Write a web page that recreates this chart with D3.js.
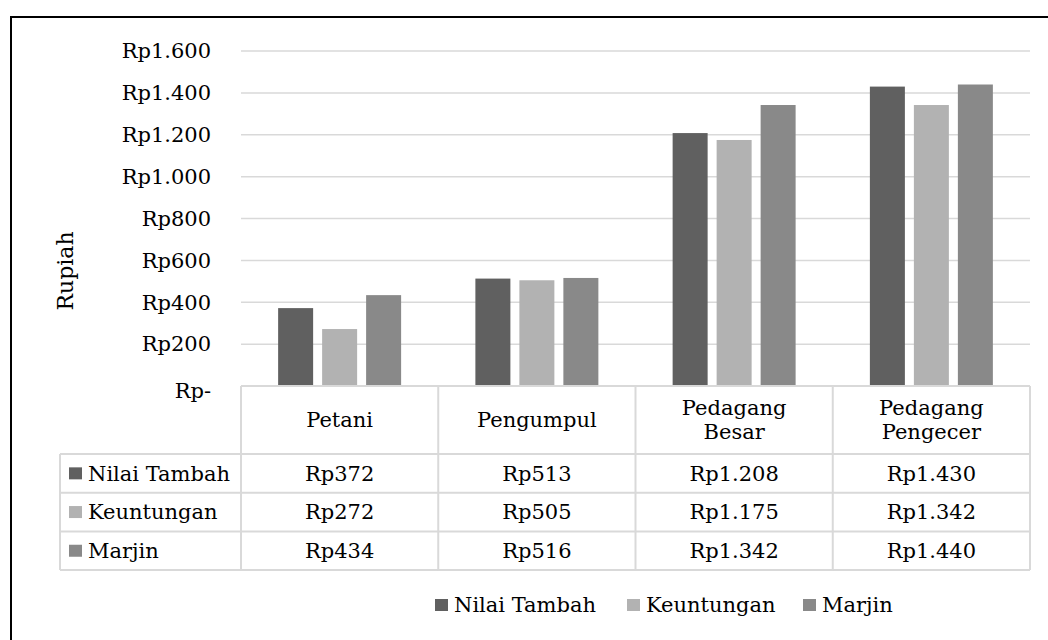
<!DOCTYPE html>
<html>
<head>
<meta charset="utf-8">
<script src="https://cdn.jsdelivr.net/npm/d3@7"></script>
<style>
  html, body { margin: 0; padding: 0; background: #fff; }
</style>
</head>
<body>
<svg id="chart" width="1048" height="640"></svg>
<script>
const categories = [["Petani"], ["Pengumpul"], ["Pedagang", "Besar"], ["Pedagang", "Pengecer"]];
const seriesNames = ["Nilai Tambah", "Keuntungan", "Marjin"];
const nilaiTambah = [372, 513, 1208, 1430];
const keuntungan = [272, 505, 1175, 1342];
const marjin = [434, 516, 1342, 1440];
const yTicks = [0, 200, 400, 600, 800, 1000, 1200, 1400, 1600];

const values = [nilaiTambah, keuntungan, marjin];
const colors = ["#606060", "#b2b2b2", "#898989"];
const gridColor = "#d9d9d9";
const FONT = 21;
const FAMILY = "'DejaVu Serif', serif";

const svg = d3.select("svg#chart");

const locale = d3.formatLocale({decimal: ",", thousands: ".", grouping: [3], currency: ["Rp", ""]});
const fmt = v => v === 0 ? "Rp-" : "Rp" + locale.format(",")(v);

// frame
svg.append("rect")
    .attr("x", 11).attr("y", 17)
    .attr("width", 1100).attr("height", 700)
    .attr("fill", "none").attr("stroke", "#000").attr("stroke-width", 2);

const plotLeft = 241, plotRight = 1030;
const catKeys = categories.map(c => c.join(" "));

const x = d3.scaleBand().domain(catKeys).range([plotLeft, plotRight]);
const xInner = d3.scaleBand().domain(seriesNames).range([0, x.bandwidth()])
    .paddingInner(9 / 44).paddingOuter(0.844);
const y = d3.scaleLinear().domain([0, 1600]).range([386, 51]);

// gridlines
svg.append("g").selectAll("line")
    .data(yTicks.filter(d => d > 0))
    .join("line")
    .attr("x1", plotLeft).attr("x2", plotRight)
    .attr("y1", d => y(d)).attr("y2", d => y(d))
    .attr("stroke", gridColor).attr("stroke-width", 1.5);

// y tick labels
svg.append("g").selectAll("text")
    .data(yTicks)
    .join("text")
    .attr("x", 211)
    .attr("y", d => y(d) + (d === 0 ? 5 : 0))
    .attr("dy", "0.35em")
    .attr("text-anchor", "end")
    .style("font-family", FAMILY)
    .attr("font-size", FONT)
    .text(fmt);

// y axis title
svg.append("text")
    .attr("transform", "translate(73,271) rotate(-90)")
    .attr("text-anchor", "middle")
    .style("font-family", FAMILY)
    .attr("font-size", 22)
    .text("Rupiah");

// bars
seriesNames.forEach((s, i) => {
    svg.append("g").selectAll("rect")
        .data(values[i])
        .join("rect")
        .attr("x", (d, j) => x(catKeys[j]) + xInner(s))
        .attr("y", d => y(d))
        .attr("width", xInner.bandwidth())
        .attr("height", d => y(0) - y(d))
        .attr("fill", colors[i]);
});

// data table
const tableTop = y(0), headerBottom = 454;
const rowH = 38.7;
const rowTops = seriesNames.map((s, i) => headerBottom + i * rowH);
const tableBottom = headerBottom + seriesNames.length * rowH;
const labelLeft = 60;
const tbl = svg.append("g").attr("stroke", gridColor).attr("stroke-width", 2);

tbl.append("line").attr("x1", plotLeft).attr("x2", plotRight).attr("y1", tableTop).attr("y2", tableTop);
[headerBottom, ...rowTops.slice(1), tableBottom].forEach(yy => {
    tbl.append("line").attr("x1", labelLeft).attr("x2", plotRight).attr("y1", yy).attr("y2", yy);
});
tbl.append("line").attr("x1", labelLeft).attr("x2", labelLeft).attr("y1", headerBottom).attr("y2", tableBottom);
[...catKeys.map(k => x(k)), plotRight].forEach(xx => {
    tbl.append("line").attr("x1", xx).attr("x2", xx).attr("y1", tableTop).attr("y2", tableBottom);
});

// header labels
categories.forEach((lines, j) => {
    const cx = x(catKeys[j]) + x.bandwidth() / 2;
    const cy = (tableTop + headerBottom) / 2;
    const t = svg.append("text")
        .attr("text-anchor", "middle")
        .style("font-family", FAMILY)
        .attr("font-size", FONT);
    lines.forEach((ln, k) => {
        t.append("tspan")
            .attr("x", cx)
            .attr("y", cy + (k - (lines.length - 1) / 2) * 24)
            .attr("dy", "0.35em")
            .text(ln);
    });
});

// rows
seriesNames.forEach((s, i) => {
    const cy = rowTops[i] + rowH / 2;
    svg.append("rect")
        .attr("x", 69).attr("y", cy - 6)
        .attr("width", 13).attr("height", 12)
        .attr("fill", colors[i]);
    svg.append("text")
        .attr("x", 88).attr("y", cy).attr("dy", "0.35em")
        .style("font-family", FAMILY)
        .attr("font-size", FONT)
        .text(s);
    values[i].forEach((v, j) => {
        svg.append("text")
            .attr("x", x(catKeys[j]) + x.bandwidth() / 2)
            .attr("y", cy).attr("dy", "0.35em")
            .attr("text-anchor", "middle")
            .style("font-family", FAMILY)
            .attr("font-size", FONT)
            .text(fmt(v));
    });
});

// legend
const legendX = [435, 627, 803];
const legend = svg.append("g");
seriesNames.forEach((s, i) => {
    legend.append("rect")
        .attr("x", legendX[i]).attr("y", 599)
        .attr("width", 13).attr("height", 12)
        .attr("fill", colors[i]);
    legend.append("text")
        .attr("x", legendX[i] + 19).attr("y", 605).attr("dy", "0.35em")
        .style("font-family", FAMILY)
        .attr("font-size", FONT)
        .text(s);
});
</script>
</body>
</html>
